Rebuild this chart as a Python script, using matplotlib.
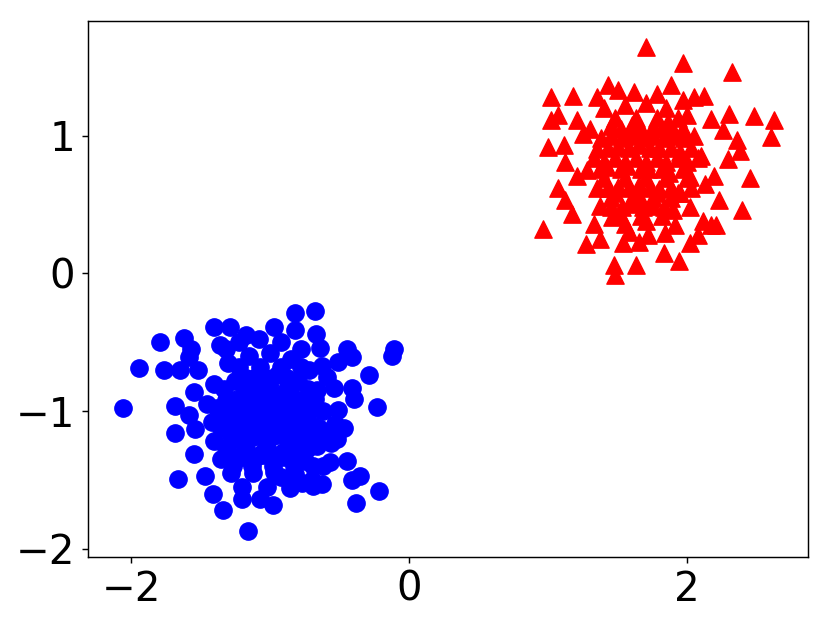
import matplotlib
matplotlib.use("Agg")
import matplotlib.pyplot as plt

blue_x = [
    -1.79, -1.94, -2.06, -1.62, -1.57, -1.58, -1.76, -1.65, -1.52, -1.40,
    -1.29, -1.32, -1.17, -1.68, -1.55, -1.58, -1.68, -1.54, -1.55, -1.66,
    -1.47, -1.41, -1.34, -1.20, -1.16,
    -0.68, -0.82, -0.82, -0.67, -0.97, -0.64, -0.45, -0.41, -0.51, -0.11,
    -0.12, -0.29, -0.41, -0.40, -0.54, -0.23, -0.51, -0.47, -0.53, -0.52,
    -0.45, -0.41, -0.35, -0.22, -0.38, -0.63, -0.77, -0.69, -0.98, -1.07,
    -0.92, -0.56, -0.57, -0.59, -0.63,
    -1.30, -1.15, -1.00, -0.85, -0.72, -1.40, -1.25, -1.10, -0.95, -0.80,
    -0.66, -1.45, -1.32, -1.18, -1.03, -0.88, -0.74, -0.62, -1.42, -1.28,
    -1.14, -0.99, -0.84, -0.70, -0.60, -1.40, -1.25, -1.10, -0.95, -0.80,
    -0.66, -1.35, -1.20, -1.05, -0.90, -0.75, -0.62, -1.28, -1.12, -0.97,
    -0.82, -0.70, -1.22, -1.08, -0.92, -0.78, -1.36, -1.02, -0.86, -1.20,
    -1.22, -1.07, -0.92, -0.78, -1.33, -1.18, -1.03, -0.88, -0.73, -1.38,
    -1.25, -1.10, -0.96, -0.81, -0.68, -1.35, -1.21, -1.06, -0.92, -0.77,
    -0.65, -1.32, -1.17, -1.02, -0.87, -0.73, -1.27, -1.13, -0.98, -0.83,
    -0.69,
    -1.17, -1.03, -0.88, -1.24, -1.10, -0.96, -0.82, -0.68, -1.32, -1.17,
    -1.03, -0.89, -0.75, -1.28, -1.13, -0.99, -0.85, -0.71, -1.24, -1.10,
    -0.96, -0.81,
    -1.14, -1.00, -0.86, -1.20, -1.06, -0.92, -0.78, -1.26, -1.12, -0.98,
    -0.84, -1.19, -1.05, -0.91, -0.77,
]
blue_y = [
    -0.50, -0.69, -0.98, -0.47, -0.55, -0.61, -0.70, -0.70, -0.70, -0.39,
    -0.39, -0.55, -0.45, -0.96, -0.86, -1.03, -1.16, -1.13, -1.31, -1.49,
    -1.47, -1.60, -1.72, -1.64, -1.87,
    -0.27, -0.29, -0.41, -0.44, -0.39, -0.54, -0.55, -0.61, -0.64, -0.55,
    -0.60, -0.74, -0.83, -0.91, -0.83, -0.97, -0.99, -1.12, -1.09, -1.20,
    -1.36, -1.50, -1.47, -1.58, -1.67, -1.53, -1.52, -1.54, -1.68, -1.64,
    -1.48, -1.23, -1.37, -0.75, -0.67,
    -0.65, -0.60, -0.58, -0.62, -0.70, -0.80, -0.78, -0.75, -0.74, -0.78,
    -0.85, -0.95, -0.92, -0.90, -0.88, -0.91, -0.95, -1.00, -1.08, -1.05,
    -1.03, -1.02, -1.05, -1.10, -1.15, -1.22, -1.20, -1.18, -1.17, -1.20,
    -1.25, -1.35, -1.33, -1.32, -1.33, -1.36, -1.40, -1.45, -1.45, -1.44,
    -1.46, -1.50, -0.50, -0.48, -0.50, -0.55, -0.52, -1.55, -1.56, -1.55,
    -0.68, -0.68, -0.68, -0.68, -0.84, -0.84, -0.84, -0.84, -0.84, -0.98,
    -0.98, -0.98, -0.98, -0.98, -0.98, -1.12, -1.12, -1.12, -1.12, -1.12,
    -1.12, -1.27, -1.27, -1.27, -1.27, -1.27, -1.40, -1.40, -1.40, -1.40,
    -1.40,
    -0.76, -0.76, -0.76, -0.91, -0.91, -0.91, -0.91, -0.91, -1.05, -1.05,
    -1.05, -1.05, -1.05, -1.19, -1.19, -1.19, -1.19, -1.19, -1.33, -1.33,
    -1.33, -1.33,
    -0.83, -0.83, -0.83, -0.97, -0.97, -0.97, -0.97, -1.14, -1.14, -1.14,
    -1.14, -1.30, -1.30, -1.30, -1.30,
]

# red cluster (triangles)
red_x = [
    1.70, 1.02, 1.18, 1.35, 1.43, 1.50, 1.02, 1.07, 1.21, 1.00,
    1.11, 1.12, 1.25, 1.07, 1.12, 1.17, 1.21, 0.96, 1.33, 1.27,
    1.37, 1.47, 1.48, 1.63, 1.54, 1.65, 1.37, 1.46,
    1.97, 2.32, 1.88, 2.05, 2.12, 1.97, 2.30, 2.17, 2.48, 2.62,
    2.60, 2.36, 2.38, 2.26, 2.29, 2.45, 2.19, 2.23, 2.39, 2.13,
    2.02, 2.17, 2.11, 2.21, 2.08, 2.02, 1.83, 1.94, 1.84, 1.91,
    1.40, 1.55, 1.70, 1.85, 2.00, 1.30, 1.45, 1.60, 1.75, 1.90,
    2.05, 1.35, 1.50, 1.65, 1.80, 1.95, 2.10, 1.28, 1.42, 1.57,
    1.72, 1.87, 2.02, 1.35, 1.50, 1.65, 1.80, 1.95, 1.45, 1.60,
    1.75, 1.90, 1.55, 1.70, 1.62, 1.78, 1.58, 1.72, 1.86, 1.66,
    1.48, 1.63, 1.78, 1.93, 1.38, 1.53, 1.68, 1.83, 1.98, 1.33,
    1.48, 1.63, 1.78, 1.93, 2.08, 1.40, 1.55, 1.70, 1.85, 2.00,
    1.45, 1.60, 1.75, 1.88, 1.52, 1.67, 1.82,
    1.52, 1.67, 1.82, 1.97, 1.43, 1.58, 1.73, 1.88, 2.03, 1.37,
    1.52, 1.67, 1.82, 1.97, 1.43, 1.58, 1.73, 1.88, 2.03, 1.53,
    1.68, 1.83,
    1.45, 1.60, 1.75, 1.90, 1.40, 1.55, 1.70, 1.85, 2.00, 1.48,
    1.63, 1.78, 1.93,
]
red_y = [
    1.64, 1.28, 1.29, 1.28, 1.37, 1.33, 1.11, 1.15, 1.11, 0.92,
    0.93, 0.81, 1.01, 0.62, 0.53, 0.43, 0.71, 0.32, 0.36, 0.21,
    0.25, 0.06, -0.01, 0.06, 0.22, 0.23, 0.49, 0.41,
    1.53, 1.46, 1.37, 1.28, 1.29, 1.26, 1.16, 1.12, 1.14, 1.11,
    0.99, 0.97, 0.89, 1.04, 0.83, 0.69, 0.71, 0.53, 0.46, 0.65,
    0.48, 0.35, 0.38, 0.35, 0.28, 0.22, 0.15, 0.09, 0.29, 0.35,
    1.20, 1.22, 1.24, 1.20, 1.15, 1.05, 1.07, 1.08, 1.06, 1.04,
    1.00, 0.90, 0.92, 0.93, 0.91, 0.88, 0.85, 0.75, 0.77, 0.78,
    0.76, 0.73, 0.70, 0.62, 0.63, 0.64, 0.61, 0.58, 0.48, 0.50,
    0.49, 0.46, 0.36, 0.38, 1.32, 1.30, 0.30, 0.28, 1.10, 0.55,
    1.13, 1.13, 1.13, 1.13, 0.98, 0.98, 0.98, 0.98, 0.98, 0.84,
    0.84, 0.84, 0.84, 0.84, 0.84, 0.69, 0.69, 0.69, 0.69, 0.69,
    0.55, 0.55, 0.55, 0.55, 0.42, 0.42, 0.42,
    1.05, 1.05, 1.05, 1.05, 0.91, 0.91, 0.91, 0.91, 0.91, 0.76,
    0.76, 0.76, 0.76, 0.76, 0.62, 0.62, 0.62, 0.62, 0.62, 0.48,
    0.48, 0.48,
    1.00, 1.00, 1.00, 1.00, 0.81, 0.81, 0.81, 0.81, 0.81, 0.58,
    0.58, 0.58, 0.58,
]

fig = plt.figure(figsize=(8.29, 6.26), dpi=100)
ax = fig.add_axes([0.106, 0.110, 0.869, 0.856])

ax.scatter(blue_x, blue_y, s=155, c="blue", marker="o")
ax.scatter(red_x, red_y, s=155, c="red", marker="^")

ax.set_xlim(-2.31, 2.87)
ax.set_ylim(-2.06, 1.83)
ax.set_xticks([-2, 0, 2])
ax.set_yticks([-2, -1, 0, 1])
ax.tick_params(labelsize=29, length=4.5, width=1.04, pad=4.5)
for spine in ax.spines.values():
    spine.set_linewidth(1.04)

fig.savefig("out.png", dpi=100)
